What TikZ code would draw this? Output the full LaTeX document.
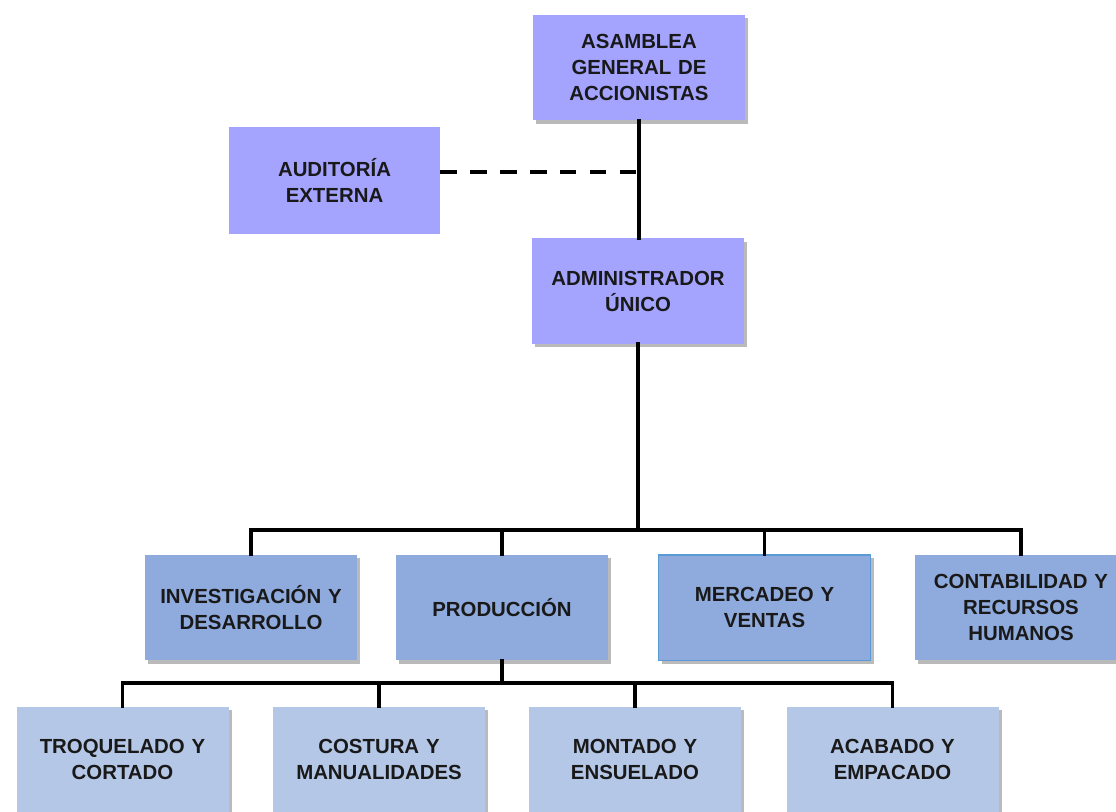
\documentclass[tikz,border=0pt]{standalone}
\usepackage{fontspec}
\setmainfont{Liberation Sans}
\usetikzlibrary{shadows}

\definecolor{lavbox}{RGB}{164,164,255}
\definecolor{areabox}{RGB}{143,170,220}
\definecolor{subbox}{RGB}{180,199,231}
\definecolor{mercline}{RGB}{91,155,213}

\tikzset{every picture/.style={line width=0.75pt}}
\tikzset{
  orgbox/.style={draw=none, minimum width=159pt, minimum height=79pt, text width=152pt,
    align=center, font=\bfseries\fontsize{15.3}{19.5}\selectfont, text=black!90, inner sep=0pt},
  shade box/.style={drop shadow={shadow xshift=2.5pt, shadow yshift=-2.5pt, opacity=0.45, fill=black!60}},
  topbox/.style={orgbox, fill=lavbox},
  areabox/.style={orgbox, fill=areabox, shade box},
  subbox/.style={orgbox, fill=subbox, shade box},
  link/.style={line width=2.6pt, line cap=rect}
}

\begin{document}
\begin{tikzpicture}[x=0.75pt,y=0.75pt,yscale=-1,xscale=1]
	\useasboundingbox (0,0) rectangle (1116,811);

	%Shape: Rectangle [asamblea]
	\node [topbox, shade box] (asamblea) at (639,67.5) {ASAMBLEA\\GENERAL DE\\ACCIONISTAS};
	%Shape: Rectangle [auditoria]
	\node [topbox, minimum width=158pt, minimum height=80pt] (auditoria) at (334.5,180.5) {AUDITORÍA\\EXTERNA};
	%Shape: Rectangle [admin]
	\node [topbox, shade box] (admin) at (638,291) {ADMINISTRADOR\\ÚNICO};

	%Shape: Rectangle [areas]
	\node [areabox] (invest) at (251,607.5) {INVESTIGACIÓN Y\\DESARROLLO};
	\node [areabox] (prod) at (502,607.5) {PRODUCCIÓN};
	\node [areabox, draw=mercline, line width=1pt] (merc) at (764.5,607.5) {MERCADEO Y\\VENTAS};
	\node [areabox] (contab) at (1021,607.5) {CONTABILIDAD Y\\RECURSOS\\HUMANOS};

	%Shape: Rectangle [produccion]
	\node [subbox] (troq) at (122.5,759.5) {TROQUELADO Y\\CORTADO};
	\node [subbox] (cost) at (379,759.5) {COSTURA Y\\MANUALIDADES};
	\node [subbox] (mont) at (635,759.5) {MONTADO Y\\ENSUELADO};
	\node [subbox] (acab) at (892.5,759.5) {ACABADO Y\\EMPACADO};

	% bus points
	\coordinate (dashend) at (636,172);
	\coordinate (bus) at (638,530);
	\coordinate (prodbus) at (502,683);

	%Straight Lines
	\draw [link] (asamblea.south) -- (asamblea.south |- admin.north);
	\draw [line width=2.6pt, dash pattern=on 12.5pt off 9.9pt] (auditoria.east |- dashend) -- (dashend);
	\draw [link] (admin.south) -- (bus);
	\draw [link] (invest.north) |- (bus) -| (contab.north);
	\draw [link] (prod.north) -- (prod.north |- bus);
	\draw [link] (merc.north) -- (merc.north |- bus);

	\draw [link] (prod.south) -- (prodbus);
	\draw [link] (troq.north) |- (prodbus) -| (acab.north);
	\draw [link] (cost.north) -- (cost.north |- prodbus);
	\draw [link] (mont.north) -- (mont.north |- prodbus);

\end{tikzpicture}
\end{document}
